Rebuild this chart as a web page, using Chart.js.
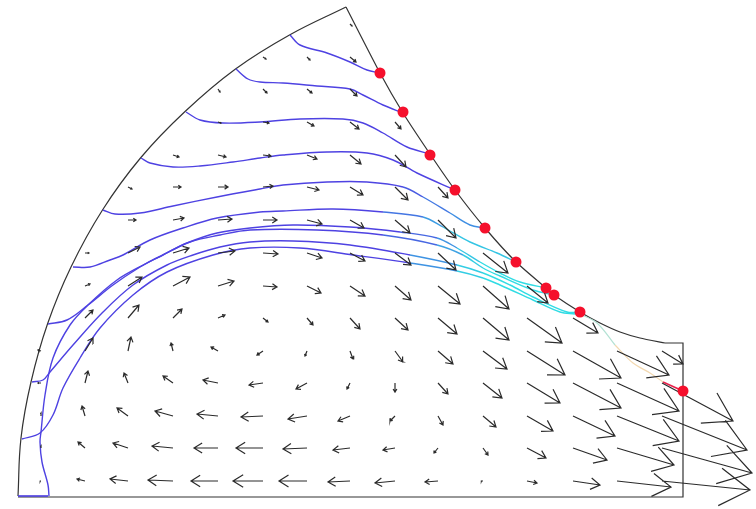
<!DOCTYPE html>
<html>
<head>
<meta charset="utf-8">
<title>Flow field</title>
<style>
  html, body { margin: 0; padding: 0; background: #fff; }
  canvas { display: block; }
</style>
<script src="https://cdn.jsdelivr.net/npm/chart.js@4"></script>
</head>
<body>
<canvas id="chart" width="756" height="509"></canvas>
<script>
// ========== outline ==========
const outerArc = [[18,496],[21,438],[31,382],[47.5,324],[71,267],[102.5,210],[140.5,158],[184.5,112],[235.5,69],[289.5,35],[346,7]];
const rightWall = [[346,7],[380,73],[403,113],[430,154],[455,190],[485,228],[516,262],[546,288],[554,295],[580,312],[600,323],[620,332],[640,338],[665,343]];
const boxEdge = [[665,343],[683,343],[683,497],[18,497]];
const bottomEdge = [[18,496],[48,496]];

// ========== streamlines ==========
const line1 = [[290,35],[300,45],[327,53],[350,62],[367,70],[380,73]];
const line2 = [[236,69],[248,79],[260,82],[283,83],[317,86],[350,89],[363,95],[383,105],[403,113]];
const line3 = [[186,112],[200,120],[223,123],[260,122],[300,119],[343,119],[363,123],[383,133],[407,147],[430,154]];
const line4 = [[141,158],[150,163],[173,167],[200,166],[233,162],[260,158],[283,155],[327,152],[367,153],[393,160],[417,173],[455,190]];
const line5 = [[103,210],[115,214],[140,213],[173,206],[217,197],[260,189],[283,185],[327,182],[367,182],[403,187],[423,197],[450,213],[470,225],[485,228]];
const line6 = [[73,267],[90,267],[110,260],[123,255],[150,240],[183,228],[217,218],[260,212],[283,211],[333,209],[383,212],[423,217],[443,227],[470,242],[497,253],[516,262]];
const line7 = [[49,496],[48,485],[42,462],[40,442],[41,432],[45,395],[53,358],[70,325],[88,305],[117,280],[147,263],[163,255],[187,243],[217,233],[250,228],[293,225],[350,227],[400,232],[437,238],[457,248],[480,262],[500,273],[520,282],[546,288]];
const line8 = [[48,324],[67,320],[88,305],[113,285],[140,267],[157,258],[190,242],[220,235],[250,230],[317,230],[383,235],[437,245],[463,255],[483,268],[500,276],[533,290],[554,295]];
const line9 = [[32,382],[43,380],[50,372],[73,345],[103,312],[133,285],[167,265],[193,255],[220,247],[250,242],[293,241],[350,245],[410,255],[457,265],[483,273],[510,285],[533,297],[567,312],[580,312]];
const line10 = [[22,439],[40,433],[53,415],[63,388],[80,358],[100,328],[133,295],[167,272],[213,255],[250,248],[300,248],[353,255],[410,263],[457,271],[483,278],[500,285],[533,300],[560,312],[575,314]];
const allLines = [line1, line2, line3, line4, line5, line6, line7, line8, line9, line10];
// where each line starts turning cyan, and how far it gets
const cyanFrom = [9999, 9999, 9999, 9999, 400, 395, 420, 420, 420, 420];
const cyanAmount = [0, 0, 0, 0, 0.5, 0.85, 1, 1, 1, 1];
// faint bit past the last dot
const exitTeal = [[580,314],[597,323],[615,345]];
const exitOrange = [[615,345],[633,363],[650,373],[663,382]];
const exitRed = [[663,382],[683,391]];

const redDots = [[380,73],[403,112],[430,155],[455,190],[485,228],[516,262],[546,288],[554,295],[580,312],[683,391]];

// ========== arrows: tails on a grid, offsets per row (bottom row first) ==========
const colX = [41,85,128,173,218,263,307,350,395,438,483,527,573,617,662];
const rowY = [481,448,416,383,351,318,286,253,220,187,155,122,89,57,24];
const _ = null;
const arrowU = [
  [-1,-8,-18,-25,-27,-30,-28,-22,-20,-13,-2,10,27,54,88],
  [0,-7,-15,-21,-24,-27,-24,-17,-12,-4,5,19,34,57,90],
  [0,-3,-11,-18,-21,-22,-19,-12,-5,5,13,26,42,62,85],
  [-3,3,-4,-10,-15,-14,-11,-3,0,10,19,33,48,62,71],
  [-3,8,3,-2,-7,-6,-2,3,8,15,24,38,48,52,21],
  [_,8,11,9,7,5,6,10,13,19,26,35,25,_,_],
  [_,5,14,17,16,14,14,15,16,22,26,21,_,_,_],
  [_,4,12,16,17,15,15,15,16,18,25,_,_,_,_],
  [_,_,8,11,14,14,15,14,15,18,_,_,_,_,_],
  [_,_,4,8,10,10,12,13,13,10,_,_,_,_,_],
  [_,_,_,6,8,8,10,11,11,_,_,_,_,_,_],
  [_,_,_,_,3,6,7,9,6,_,_,_,_,_,_],
  [_,_,_,_,2,4,5,7,_,_,_,_,_,_,_],
  [_,_,_,_,_,3,3,6,_,_,_,_,_,_,_],
  [_,_,_,_,_,_,_,2,_,_,_,_,_,_,_]
];
const arrowV = [
  [0,-2,-2,-1,0,0,0,1,2,1,0,2,4,6,9],
  [-2,-6,-5,-2,0,0,1,2,2,5,7,10,12,17,25],
  [-3,-10,-8,-5,-2,1,3,5,5,9,11,15,20,25,34],
  [0,-12,-10,-7,-3,2,6,6,9,11,15,20,25,28,38],
  [-1,-13,-14,-8,-4,4,5,8,11,13,18,24,27,24,13],
  [_,-8,-13,-9,-3,4,7,11,12,16,22,25,15,_,_],
  [_,-2,-9,-9,-5,1,7,10,14,18,23,17,_,_,_],
  [_,0,-6,-5,-2,1,5,8,12,17,20,_,_,_,_],
  [_,_,0,-2,-1,0,4,8,13,18,_,_,_,_,_],
  [_,_,2,0,0,-1,3,8,13,11,_,_,_,_,_],
  [_,_,_,2,2,1,4,9,12,_,_,_,_,_,_],
  [_,_,_,_,1,1,4,7,7,_,_,_,_,_,_],
  [_,_,_,_,3,4,4,7,_,_,_,_,_,_,_],
  [_,_,_,_,_,2,3,5,_,_,_,_,_,_,_],
  [_,_,_,_,_,_,_,2,_,_,_,_,_,_,_]
];

const toPoints = (list) => list.map(p => ({ x: p[0], y: p[1] }));

// shaft + two barbs for every arrow, NaN breaks the path between them
function arrowPath() {
  const out = [];
  const gap = { x: NaN, y: NaN };
  const barbLen = 0.4, barbAngle = 32 * Math.PI / 180;
  rowY.forEach((y, r) => {
    colX.forEach((x, c) => {
      const u = arrowU[r][c], v = arrowV[r][c];
      if (u === null) return;
      const tx = x + u, ty = y + v;
      const a = Math.atan2(v, u);
      const len = Math.hypot(u, v) * barbLen;
      out.push({ x, y }, { x: tx, y: ty }, gap);
      out.push({ x: tx - len * Math.cos(a - barbAngle), y: ty - len * Math.sin(a - barbAngle) });
      out.push({ x: tx, y: ty });
      out.push({ x: tx - len * Math.cos(a + barbAngle), y: ty - len * Math.sin(a + barbAngle) }, gap);
    });
  });
  return out;
}

// blue -> cyan depending on how far along x we are
function streamColor(x, from, amount) {
  const t = Math.min(1, Math.max(0, (x - from) / 70)) * amount;
  const mix = (a, b) => Math.round(a + (b - a) * t);
  return `rgb(${mix(78, 48)},${mix(66, 220)},${mix(226, 228)})`;
}

function plain(list, color, width, order, tension) {
  return { data: toPoints(list), borderColor: color, borderWidth: width, pointRadius: 0, tension, order };
}

const datasets = [];

datasets.push({
  data: toPoints(redDots), showLine: false, pointRadius: 5.5, pointHoverRadius: 5.5,
  pointBackgroundColor: "#f5102c", pointBorderWidth: 0, order: 0
});
datasets.push({
  data: arrowPath(), borderColor: "#2b2b2b", borderWidth: 1.2, pointRadius: 0, tension: 0, spanGaps: false, order: 1
});
allLines.forEach((pts, i) => {
  datasets.push({
    data: toPoints(pts), borderWidth: 1.4, pointRadius: 0, tension: 0.35, order: 2,
    borderColor: streamColor(0, cyanFrom[i], cyanAmount[i]),
    segment: { borderColor: ctx => streamColor(ctx.p1.parsed.x, cyanFrom[i], cyanAmount[i]) }
  });
});
datasets.push(plain(exitTeal, "#b4e2d4", 1.2, 2, 0.35));
datasets.push(plain(exitOrange, "#f2d8b0", 1.2, 2, 0.35));
datasets.push(plain(exitRed, "#e8204a", 1.6, 2, 0));
datasets.push(plain(bottomEdge, "#4a3ae0", 1.6, 2, 0));
datasets.push(plain(outerArc, "#333333", 1.2, 3, 0.4));
datasets.push(plain(rightWall, "#333333", 1.2, 3, 0.2));
datasets.push(plain(boxEdge, "#333333", 1.2, 3, 0));

new Chart(document.getElementById("chart"), {
  type: "line",
  data: { datasets },
  options: {
    responsive: false,
    animation: false,
    events: [],
    layout: { padding: 0, autoPadding: false },
    plugins: { legend: { display: false }, tooltip: { enabled: false } },
    scales: {
      x: { type: "linear", min: 0, max: 756, display: false },
      y: { type: "linear", min: 0, max: 509, reverse: true, display: false }
    }
  }
});
</script>
</body>
</html>
